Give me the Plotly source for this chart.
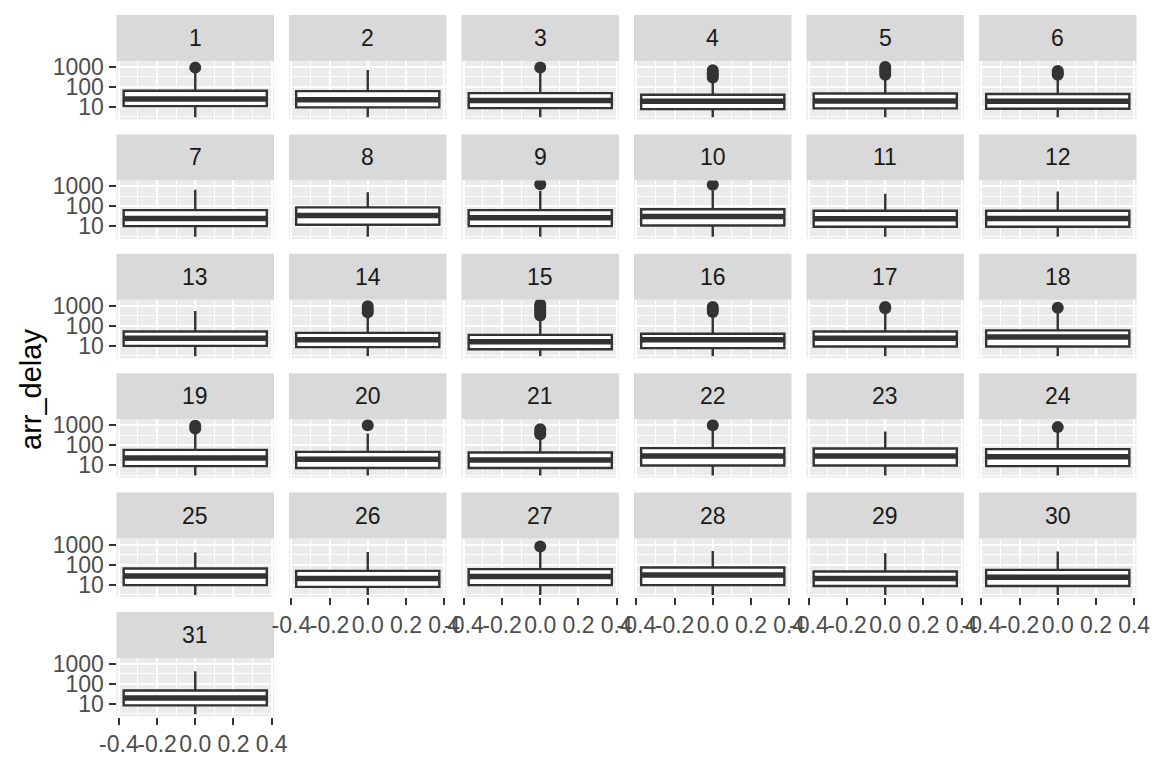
import plotly.graph_objects as go

# ---------------- data (minutes) ----------------
days = list(range(1, 32))
q1 = [11, 9.5, 8.7, 7.8, 8.5, 8.1,
      10.2, 12, 10.2, 11, 9.5, 9.5,
      9.8, 8.5, 6.6, 7.6, 9.1, 9.1,
      8.9, 7.2, 7.2, 9.5, 9.5, 8.9,
      9.3, 7.6, 9.3, 9.3, 8.5, 8.5,
      8.5]
median = [25, 23, 21, 19, 20, 19,
          25, 35, 27, 31, 24, 25,
          24, 20, 16, 20, 24, 27,
          23, 19.5, 18, 29, 29, 26,
          27, 20, 25, 30, 20, 23,
          20]
q3 = [65, 62, 49, 41, 47, 44,
      65, 89, 65, 72, 60, 60,
      52, 44, 35, 40, 52, 59,
      58, 46, 43, 71, 68, 63,
      63, 48, 59, 71, 45, 54,
      47]
whisker_lo = [3, 3, 3, 3, 3, 3,
              3, 3, 3, 3, 3, 3,
              3, 3, 3, 3, 3, 3,
              3, 3, 3, 3, 3, 3,
              3, 3, 3, 3, 3, 3,
              3]
whisker_hi = [630, 700, 700, 270, 380, 390,
              680, 510, 600, 630, 430, 550,
              550, 420, 300, 460, 700, 650,
              640, 380, 330, 620, 480, 620,
              400, 430, 620, 480, 370, 450,
              430]
outliers = [[930], [], [940], [300, 380, 480, 680], [410, 560, 750, 1000], [410, 500, 630],
            [], [], [1272], [1200], [], [],
            [], [470, 650, 950], [330, 430, 560, 740, 950, 1150], [490, 650, 880], [750, 880], [800],
            [680, 930], [1000], [350, 450, 630], [1000], [], [800],
            [], [], [800], [], [], [],
            []]

y_tick_vals = [10, 100, 1000]
y_tick_text = ["10", "100", "1000"]
y_minor_vals = [3.1623, 31.623, 316.23]
x_tick_vals = [-0.4, -0.2, 0.0, 0.2, 0.4]
x_tick_text = ["-0.4", "-0.2", "0.0", "0.2", "0.4"]
x_minor_vals = [-0.3, -0.1, 0.1, 0.3]
y_title = "arr_delay"

# ---------------- layout constants ----------------
W, H = 1152, 768
NCOL = 6
COL_LEFT0, COL_STEP, PANEL_W = 116.5, 172.5, 157.5
ROW_TOP0, ROW_STEP, STRIP_H, PANEL_H = 15.0, 119.4, 46.0, 58.5
BOX_W = 0.75
X_RANGE = [-0.4125, 0.4125]
Y_RANGE_LOG = [0.37, 3.30]

DARK = "#333333"
FONT = "Liberation Sans, Arial, Helvetica, sans-serif"
TICK_FONT = dict(family=FONT, size=23, color="#4D4D4D")

fig = go.Figure()
shapes, annotations = [], []
layout_axes = {}

n_panels = len(days)
for i, d in enumerate(days):
    r, c = divmod(i, NCOL)
    sfx = "" if i == 0 else str(i + 1)
    xa, ya = "x" + sfx, "y" + sfx

    left = COL_LEFT0 + c * COL_STEP
    right = left + PANEL_W
    strip_top = ROW_TOP0 + r * ROW_STEP
    panel_top = strip_top + STRIP_H
    panel_bot = panel_top + PANEL_H

    xd = [left / W, right / W]
    yd = [1 - panel_bot / H, 1 - panel_top / H]

    show_x = (i + NCOL) >= n_panels
    show_y = c == 0

    layout_axes["xaxis" + sfx] = dict(
        domain=xd, anchor=ya, range=X_RANGE, type="linear",
        tickmode="array", tickvals=x_tick_vals, ticktext=x_tick_text,
        showticklabels=show_x, ticks="outside" if show_x else "",
        ticklen=7, tickwidth=2.2, tickcolor=DARK, tickangle=0,
        tickfont=TICK_FONT, showgrid=True, gridcolor="white", gridwidth=1.6,
        zeroline=False, showline=False, automargin=False, fixedrange=True,
        minor=dict(tickmode="array", tickvals=x_minor_vals, showgrid=True,
                   gridcolor="white", gridwidth=0.8, ticks=""),
    )
    layout_axes["yaxis" + sfx] = dict(
        domain=yd, anchor=xa, range=Y_RANGE_LOG, type="log",
        tickmode="array", tickvals=y_tick_vals, ticktext=y_tick_text,
        showticklabels=show_y, ticks="outside" if show_y else "",
        ticklen=7, tickwidth=2.2, tickcolor=DARK,
        tickfont=TICK_FONT, showgrid=True, gridcolor="white", gridwidth=1.6,
        zeroline=False, showline=False, automargin=False, fixedrange=True,
        minor=dict(tickmode="array", tickvals=y_minor_vals, showgrid=True,
                   gridcolor="white", gridwidth=0.8, ticks=""),
    )

    # panel background and strip
    shapes.append(dict(type="rect", xref="paper", yref="paper",
                       x0=xd[0], x1=xd[1], y0=yd[0], y1=yd[1],
                       fillcolor="#EBEBEB", line=dict(width=0), layer="below"))
    shapes.append(dict(type="rect", xref="paper", yref="paper",
                       x0=xd[0], x1=xd[1], y0=1 - panel_top / H, y1=1 - strip_top / H,
                       fillcolor="#D9D9D9", line=dict(width=0), layer="below"))
    annotations.append(dict(xref="paper", yref="paper",
                            x=(xd[0] + xd[1]) / 2, y=1 - (strip_top + STRIP_H / 2) / H,
                            text=str(d), showarrow=False, xanchor="center", yanchor="middle",
                            font=dict(family=FONT, size=23, color="#1A1A1A")))

    # box
    fig.add_trace(go.Box(
        x=[0], q1=[q1[i]], median=[median[i]], q3=[q3[i]],
        lowerfence=[whisker_lo[i]], upperfence=[whisker_hi[i]],
        width=BOX_W, whiskerwidth=0, boxpoints=False,
        fillcolor="white", line=dict(color=DARK, width=2.4),
        xaxis=xa, yaxis=ya, showlegend=False, hoverinfo="skip",
    ))
    # thicker median line (ggplot fatten)
    fig.add_trace(go.Scatter(
        x=[-BOX_W / 2, BOX_W / 2], y=[median[i], median[i]], mode="lines",
        line=dict(color=DARK, width=5.5), xaxis=xa, yaxis=ya,
        showlegend=False, hoverinfo="skip",
    ))
    # outliers
    if outliers[i]:
        fig.add_trace(go.Scatter(
            x=[0] * len(outliers[i]), y=outliers[i], mode="markers",
            marker=dict(color=DARK, size=12, line=dict(width=0)),
            xaxis=xa, yaxis=ya, showlegend=False, hoverinfo="skip",
        ))

annotations.append(dict(xref="paper", yref="paper", x=31 / W, y=1 - 390 / H,
                        text=y_title, textangle=-90, showarrow=False,
                        xanchor="center", yanchor="middle",
                        font=dict(family=FONT, size=29, color="black")))

fig.update_layout(
    width=W, height=H, margin=dict(l=0, r=0, t=0, b=0),
    paper_bgcolor="white", plot_bgcolor="rgba(0,0,0,0)",
    font=dict(family=FONT), shapes=shapes, annotations=annotations,
    showlegend=False, **layout_axes,
)

fig.write_html("out.html", config={"displayModeBar": False})
